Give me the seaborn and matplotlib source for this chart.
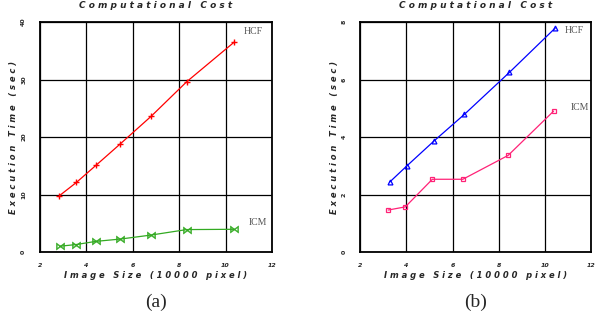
import numpy as np
import pandas as pd
import matplotlib
matplotlib.use('Agg')
import matplotlib.pyplot as plt
import seaborn as sns

sns.set_style("white")

# panel (a)
a_hcf_x = [2.84, 3.57, 4.42, 5.46, 6.79, 8.32, 10.37]
a_hcf_y = [9.8, 12.1, 15.1, 18.8, 23.6, 29.6, 36.5]
a_icm_x = [2.85, 3.56, 4.41, 5.46, 6.79, 8.32, 10.37]
a_icm_y = [1.0, 1.3, 1.85, 2.25, 2.95, 3.9, 3.95]

# panel (b)
b_hcf_x = [3.27, 4.01, 5.19, 6.51, 8.46, 10.44]
b_hcf_y = [2.43, 2.99, 3.86, 4.79, 6.25, 7.79]
b_icm_x = [3.21, 3.95, 5.12, 6.44, 8.40, 10.37]
b_icm_y = [1.46, 1.57, 2.53, 2.53, 3.36, 4.90]

x_ticks = [2, 4, 6, 8, 10, 12]
a_y_ticks = [0, 10, 20, 30, 40]
b_y_ticks = [0, 2, 4, 6, 8]

TITLE = "C o m p u t a t i o n a l   C o s t"
XLABEL = "I m a g e   S i z e   ( 1 0 0 0 0   p i x e l )"
YLABEL = "E x e c u t i o n   T i m e   ( s e c )"


def style_axes(ax, yticks, caption):
    ax.set_xlim(2, 12)
    ax.set_ylim(yticks[0], yticks[-1])
    ax.set_xticks(x_ticks)
    ax.set_yticks(yticks)
    ax.set_xticklabels([str(t) for t in x_ticks], fontsize=4.5, fontweight='bold',
                       fontstyle='italic')
    ax.set_yticklabels([str(t) for t in yticks], fontsize=4.5, fontweight='bold',
                       rotation=90, va='center')
    ax.tick_params(axis='x', length=0, pad=8)
    ax.tick_params(axis='y', length=0, pad=10)
    ax.grid(True, color='black', linewidth=0.9)
    for s in ax.spines.values():
        s.set_color('black')
        s.set_linewidth(1.3)
    ax.set_title(TITLE, fontsize=6.5, fontweight='bold', fontstyle='italic', pad=10)
    ax.set_xlabel(XLABEL, fontsize=6, fontweight='bold', fontstyle='italic', labelpad=2)
    ax.set_ylabel(YLABEL, fontsize=6, fontweight='bold', fontstyle='italic', labelpad=2)
    ax.text(0.5, -0.217, caption, transform=ax.transAxes, ha='center', va='center',
            fontsize=14, family='Liberation Serif')


fig = plt.figure(figsize=(6.05, 3.24), dpi=100)
ax1 = fig.add_axes([0.0661, 0.2222, 0.3835, 0.7099])
ax2 = fig.add_axes([0.5955, 0.2222, 0.3818, 0.7099])

sns.lineplot(x=a_hcf_x, y=a_hcf_y, ax=ax1, color='red', marker='+', markersize=5,
             markeredgecolor='red', markeredgewidth=1, linewidth=0.9)
sns.lineplot(x=a_icm_x, y=a_icm_y, ax=ax1, color='#33aa22', marker=r'$\bowtie$',
             markersize=6, markeredgecolor='#33aa22', markerfacecolor='#33aa22',
             markeredgewidth=0.3, linewidth=0.9)
ax1.text(11.2, 38.4, "HCF", fontsize=7, color='#555555', ha='center', va='center',
         family='Liberation Serif')
ax1.text(11.4, 5.2, "ICM", fontsize=7, color='#555555', ha='center', va='center',
         family='Liberation Serif')
style_axes(ax1, a_y_ticks, "(a)")

sns.lineplot(x=b_hcf_x, y=b_hcf_y, ax=ax2, color='blue', marker='^', markersize=3.5,
             markerfacecolor='none', markeredgecolor='blue', markeredgewidth=0.9,
             linewidth=0.9)
sns.lineplot(x=b_icm_x, y=b_icm_y, ax=ax2, color='#ff2277', marker='s', markersize=3.5,
             markerfacecolor='none', markeredgecolor='#ff2277', markeredgewidth=0.9,
             linewidth=0.9)
ax2.text(11.26, 7.69, "HCF", fontsize=7, color='#555555', ha='center', va='center',
         family='Liberation Serif')
ax2.text(11.52, 5.04, "ICM", fontsize=7, color='#555555', ha='center', va='center',
         family='Liberation Serif')
style_axes(ax2, b_y_ticks, "(b)")

fig.savefig('out.png', dpi=100)
